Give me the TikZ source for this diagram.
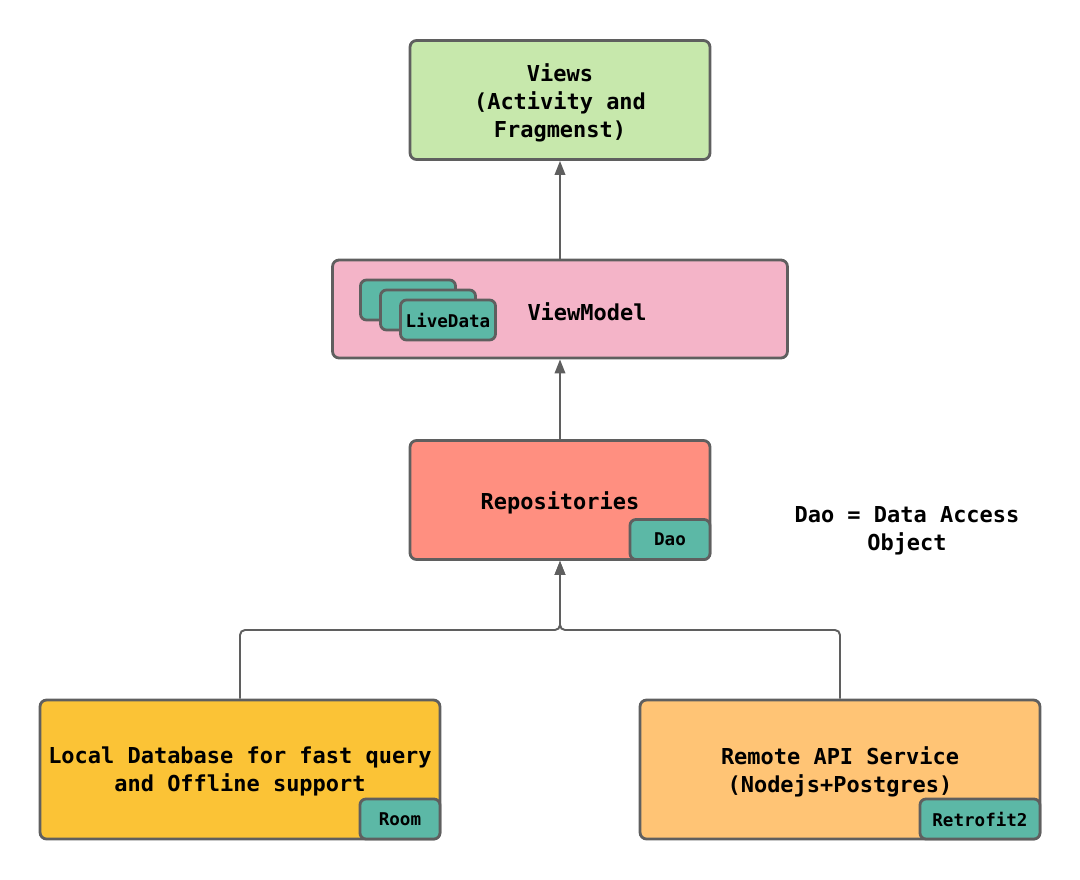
\documentclass[tikz,border=0pt]{standalone}
\usepackage{fontspec}
\setmonofont{DejaVu Sans Mono}
\usetikzlibrary{arrows.meta}
\definecolor{edge}{HTML}{5F5F5F}
\definecolor{viewgreen}{HTML}{C7E8AC}
\definecolor{vmpink}{HTML}{F4B4C8}
\definecolor{reposalmon}{HTML}{FF8F80}
\definecolor{localyellow}{HTML}{FBC336}
\definecolor{remoteorange}{HTML}{FFC475}
\definecolor{badgeteal}{HTML}{5CB8A6}
\tikzset{
	layer/.style={draw=edge, line width=1.6pt, rounded corners=0.13cm, align=center,
		font=\ttfamily\bfseries\fontsize{12.5}{15.9}\selectfont, inner sep=0pt},
	label/.style={align=center, font=\ttfamily\bfseries\fontsize{12.5}{15.9}\selectfont, yshift=-0.05cm},
	badge/.style={draw=edge, line width=1.6pt, rounded corners=0.12cm, fill=badgeteal,
		font=\ttfamily\bfseries\fontsize{10}{12}\selectfont, inner sep=0pt, minimum height=0.8cm},
	flow/.style={draw=edge, line width=1.1pt, -{Triangle[length=0.28cm,width=0.21cm]}}
}
\begin{document}
\begin{tikzpicture}[x=0.02cm,y=-0.02cm]
		\useasboundingbox (0,0) rectangle (1080,880);
		% layers
		\node[layer, fill=viewgreen, minimum width=6cm, minimum height=2.38cm] (views) at (560,100) {};
		\node[label] at (560,100) {Views\\(Activity and\\Fragmenst)};
		\node[layer, fill=vmpink, minimum width=9.1cm, minimum height=1.96cm] (vm) at (560,309) {};
		\node[label] (vmtext) at (587,309) {ViewModel};
		\foreach \i/\name in {0/ldback,1/ldmid,2/livedata}
		{
			\node[badge, minimum width=1.9cm] (\name) at (408+\i*20,300+\i*10) {};
		}
		\node[font=\ttfamily\bfseries\fontsize{10}{12}\selectfont] at (livedata) {LiveData};
		\node[layer, fill=reposalmon, minimum width=6cm, minimum height=2.38cm] (repo) at (560,500) {};
		\node[label] at (560,500) {Repositories};
		\node[badge, minimum width=1.6cm, anchor=south east] (dao) at (repo.south east) {Dao};
		\node[label] (daonote) at (907,528) {Dao = Data Access\\Object};
		\node[layer, fill=localyellow, minimum width=8cm, minimum height=2.78cm] (local) at (240,769.5) {};
		\node[label] at (240,769) {Local Database for fast query\\and Offline support};
		\node[badge, minimum width=1.6cm, anchor=south east] (room) at (local.south east) {Room};
		\node[layer, fill=remoteorange, minimum width=8cm, minimum height=2.78cm] (remote) at (840,769.5) {};
		\node[label] at (840,769) {Remote API Service\\(Nodejs+Postgres)};
		\node[badge, minimum width=2.4cm, anchor=south east] (retrofit) at (remote.south east) {Retrofit2};
		% connectors
		\draw[flow] (vm) -- (views);
		\draw[flow] (repo) -- (vm);
		\coordinate (join) at (560,630);
		\draw[flow, rounded corners=0.1cm] (local.north) |- (join) -- (repo.south);
		\draw[flow, rounded corners=0.1cm] (remote.north) |- (join) -- (repo.south);
\end{tikzpicture}
\end{document}
